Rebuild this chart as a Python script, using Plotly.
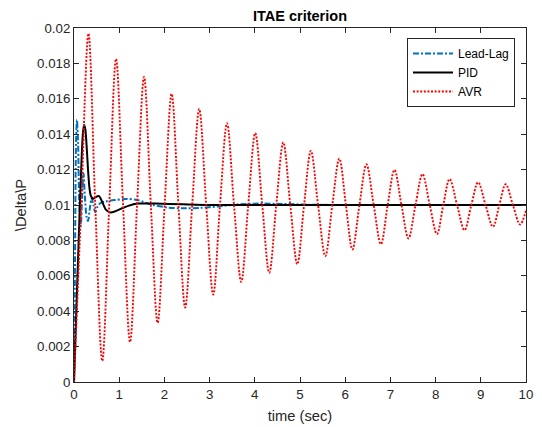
import plotly.graph_objects as go

# ---- data ----
# Lead-Lag (blue dash-dot)
leadlag_t = [0, 0.02, 0.045, 0.065, 0.09, 0.12, 0.15, 0.18, 0.21, 0.24, 0.28, 0.31, 0.35,
             0.39, 0.43, 0.47, 0.52, 0.58, 0.7, 0.9, 1.15, 1.4, 1.75, 2.1, 2.4, 2.8, 3.2,
             3.6, 4.1, 4.6, 5.2, 6.0, 10.0]
leadlag_v = [0, 0.006, 0.0135, 0.0148, 0.0135, 0.0098, 0.0088, 0.0105, 0.0118, 0.0105, 0.0093,
             0.0091, 0.0098, 0.0104, 0.0100, 0.0096, 0.0099, 0.0101, 0.0102, 0.01028, 0.01034,
             0.01028, 0.0100, 0.00985, 0.00981, 0.00984, 0.00992, 0.01003, 0.01008, 0.01006,
             0.01002, 0.0100, 0.0100]

# PID (black solid)
pid_t = [0, 0.19, 0.22, 0.25, 0.28, 0.31, 0.34, 0.37, 0.42, 0.48, 0.555, 0.62, 0.7, 0.8,
         0.9, 1.05, 1.2, 1.4, 1.8, 2.4, 3.0, 10.0]
pid_v = [0, 0.0138, 0.01453, 0.0143, 0.0133, 0.0120, 0.0110, 0.01055, 0.01035, 0.01045,
         0.0105, 0.0102, 0.00975, 0.00958, 0.00963, 0.0098, 0.00995, 0.01008, 0.01008,
         0.01004, 0.0100, 0.0100]

# AVR (red dotted): start, alternating peaks / troughs with 0.01 crossings between them
avr_t = [0, 0.16, 0.32, 0.47, 0.625, 0.78, 0.93, 1.085, 1.24, 1.395, 1.55, 1.70, 1.85, 2.005,
         2.16, 2.31, 2.46, 2.615, 2.77, 2.925, 3.08, 3.23, 3.385, 3.54, 3.70, 3.855, 4.01,
         4.165, 4.32, 4.475, 4.63, 4.785, 4.94, 5.09, 5.24, 5.40, 5.56, 5.715, 5.87, 6.015,
         6.16, 6.315, 6.47, 6.63, 6.79, 6.94, 7.09, 7.245, 7.40, 7.555, 7.71, 7.87, 8.03,
         8.17, 8.31, 8.475, 8.64, 8.79, 8.94, 9.105, 9.27, 9.41, 9.55, 9.71, 9.87, 10.0]
avr_v = [0, 0.0100, 0.01968, 0.0100, 0.00119, 0.0100, 0.01825, 0.0100, 0.00226, 0.0100,
         0.01723, 0.0100, 0.00334, 0.0100, 0.01628, 0.0100, 0.00421, 0.0100, 0.01542, 0.0100,
         0.00494, 0.0100, 0.01462, 0.0100, 0.00566, 0.0100, 0.01406, 0.0100, 0.00617, 0.0100,
         0.01353, 0.0100, 0.00666, 0.0100, 0.01306, 0.0100, 0.00711, 0.0100, 0.01262, 0.0100,
         0.00749, 0.0100, 0.01230, 0.0100, 0.00779, 0.0100, 0.01198, 0.0100, 0.00811, 0.0100,
         0.01174, 0.0100, 0.00836, 0.0100, 0.01147, 0.0100, 0.00858, 0.0100, 0.01128, 0.0100,
         0.00877, 0.0100, 0.01117, 0.0100, 0.00890, 0.0097]

x_ticks = [0, 1, 2, 3, 4, 5, 6, 7, 8, 9, 10]
y_ticks = [0, 0.002, 0.004, 0.006, 0.008, 0.01, 0.012, 0.014, 0.016, 0.018, 0.02]
y_ticktext = ["0", "0.002", "0.004", "0.006", "0.008", "0.01", "0.012", "0.014", "0.016",
              "0.018", "0.02"]

FONT = "Liberation Sans, Arial, Helvetica, sans-serif"
AX = "#262626"

fig = go.Figure()
fig.add_trace(go.Scatter(x=leadlag_t, y=leadlag_v, mode="lines", name="Lead-Lag",
                         line=dict(color="#0072BD", width=2, dash="6px,2px,2px,2px",
                                   shape="spline", smoothing=0.8)))
fig.add_trace(go.Scatter(x=pid_t, y=pid_v, mode="lines", name="PID",
                         line=dict(color="#000000", width=2, shape="spline", smoothing=0.6)))
fig.add_trace(go.Scatter(x=avr_t, y=avr_v, mode="lines", name="AVR",
                         line=dict(color="#FF0000", width=1.9, dash="2px,1.6px",
                                   shape="spline", smoothing=1.0)))

axis_common = dict(showline=True, linecolor=AX, linewidth=1, mirror="ticks",
                   ticks="inside", ticklen=5, tickcolor=AX, tickwidth=1,
                   showgrid=False, zeroline=False, automargin=False,
                   tickfont=dict(family=FONT, size=13.3, color=AX))

fig.update_layout(
    width=542, height=427,
    paper_bgcolor="white", plot_bgcolor="white",
    margin=dict(l=74, r=16, t=28, b=45, autoexpand=False),
    title=dict(text="<b>ITAE criterion</b>", x=0.5, xref="paper", xanchor="center",
               y=1 - 16 / 427, yref="container", yanchor="middle",
               font=dict(family=FONT, size=14.5, color="#000000")),
    xaxis=dict(range=[0, 10], tickvals=x_ticks,
               title=dict(text="time (sec)", standoff=9,
                          font=dict(family=FONT, size=14.7, color=AX)),
               **axis_common),
    yaxis=dict(range=[0, 0.02], tickvals=y_ticks, ticktext=y_ticktext,
               title=dict(text="\\Delta\\P", standoff=6,
                          font=dict(family=FONT, size=14.7, color=AX)),
               **axis_common),
    legend=dict(x=0.9757, y=0.9718, xanchor="right", yanchor="top",
                bgcolor="white", bordercolor=AX, borderwidth=1,
                font=dict(family=FONT, size=12, color="#000000"),
                itemwidth=40, tracegroupgap=0),
    showlegend=True,
)

fig.write_html("out.html", config={"displayModeBar": False},
               post_script="document.body.style.margin='0';document.body.style.padding='0';")
